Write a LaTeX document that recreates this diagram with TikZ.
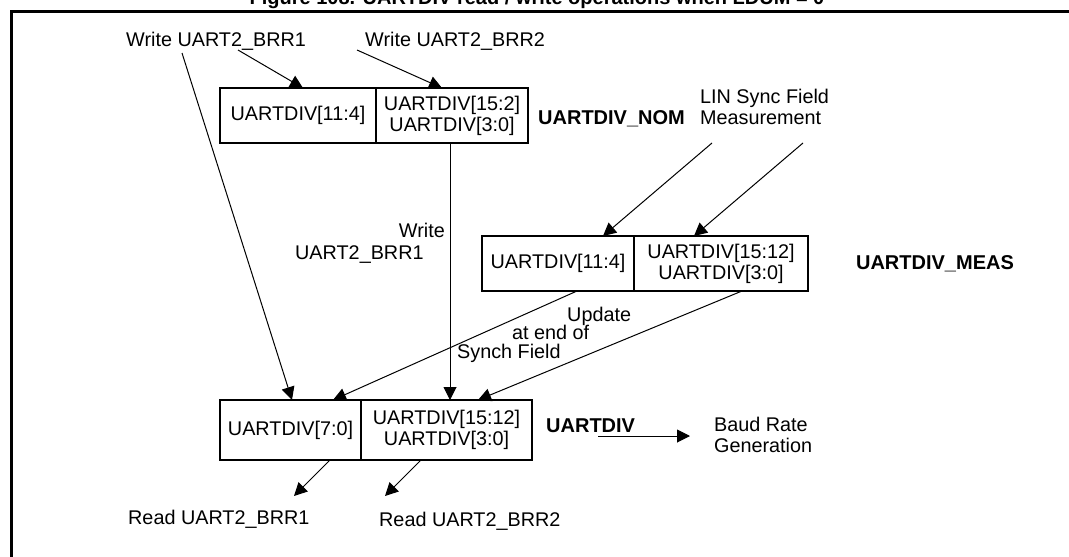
\documentclass[tikz,border=0pt]{standalone}
\usepackage{fontspec}
\setmainfont{Liberation Sans}
\usetikzlibrary{arrows.meta,calc}
\begin{document}
\begin{tikzpicture}[x=1pt,y=-1pt,
  txt/.style={font=\fontsize{19.8}{21}\selectfont, inner sep=0pt},
  bld/.style={font=\fontsize{20}{21}\selectfont\bfseries, inner sep=0pt},
  cell/.style={draw, line width=1.2pt, minimum height=55pt, inner sep=0pt, align=center,
               font=\fontsize{19.8}{21}\selectfont},
  arr/.style={-{Triangle[length=13pt,width=13pt]}, line width=1pt}]
\useasboundingbox (0,0) rectangle (1069,557);
\clip (0,0) rectangle (1069,557);
\fill[white] (0,0) rectangle (1069,557);
% title (clipped at the top edge, as in the reference) and frame
\node[bld, anchor=base] (title) at (537,4) {Figure 108. UARTDIV read / write operations when LDUM = 0};
\draw[line width=3pt] (11,11) rectangle (1090,580);

% top labels
\node[txt, anchor=base west] (w1) at (126,46) {Write UART2\_BRR1};
\node[txt, anchor=base west] (w2) at (365,46) {Write UART2\_BRR2};

% NOM register
\node[cell, minimum width=156pt] (nomL) at (298,115.5) {UARTDIV[11:4]};
\node[cell, minimum width=152pt] (nomR) at (452,115.5) {UARTDIV[15:2]\\UARTDIV[3:0]};
\node[bld, anchor=base west] (nomlab) at (538,124) {UARTDIV\_NOM};

% LIN sync
\node[txt, anchor=base west, align=left] (lin) at (700,124) {LIN Sync Field\\Measurement};

% MEAS register
\node[cell, minimum width=152pt] (measL) at (558,263.5) {UARTDIV[11:4]};
\node[cell, minimum width=174pt] (measR) at (721,263.5) {UARTDIV[15:12]\\UARTDIV[3:0]};
\node[bld, anchor=base] (measlab) at (935,269) {UARTDIV\_MEAS};

% labels in the middle
\node[txt, anchor=base east] (wl1) at (445,237) {Write};
\node[txt, anchor=base west] (wl2) at (295,259) {UART2\_BRR1};
\node[txt, anchor=base west] (up1) at (567,321) {Update};
\node[txt, anchor=base west] (up2) at (512,339) {at end of};
\node[txt, anchor=base west] (up3) at (457,358) {Synch Field};

% UARTDIV register
\node[cell, minimum width=141pt, minimum height=60pt] (botL) at (290.5,430) {UARTDIV[7:0]};
\node[cell, minimum width=171pt, minimum height=60pt] (botR) at (446.5,430) {UARTDIV[15:12]\\UARTDIV[3:0]};
\node[bld, anchor=base west] (divlab) at (546,432) {UARTDIV};
\node[txt, anchor=base west, align=left] (baud) at (714,452) {Baud Rate\\Generation};

% read labels
\node[txt, anchor=base west] (r1) at (128,524) {Read UART2\_BRR1};
\node[txt, anchor=base west] (r2) at (379,526) {Read UART2\_BRR2};

% connector end points
\coordinate (w1a) at (238,50);
\coordinate (w1b) at (182,53);
\coordinate (w2a) at (357,50);
\coordinate (nomLin) at (303,88);
\coordinate (nomRin) at (442,88);
\coordinate (lina) at (712,143);
\coordinate (linb) at (803,143);
\coordinate (measLin) at (603,236);
\coordinate (measRin) at (694,236);
\coordinate (nomRout) at (450,143);
\coordinate (mlo) at (577,291);
\coordinate (mro) at (742,291);
\coordinate (botin1) at (292,400);
\coordinate (botin2) at (333,400);
\coordinate (botin3) at (450,400);
\coordinate (botin4) at (478,400);
\coordinate (bl1) at (330,460);
\coordinate (br1) at (421,460);
\coordinate (rd1) at (294,496);
\coordinate (rd2) at (385,496);
\coordinate (bdst) at (598,436);
\coordinate (bdend) at (690,436);

% connectors
\draw[arr] (w1a) -- (nomLin);
\draw[arr] (w2a) -- (nomRin);
\draw[arr] (lina) -- (measLin);
\draw[arr] (linb) -- (measRin);
\draw[arr] (w1b) -- (botin1);
\draw[arr] (nomRout) -- (botin3);
\draw[arr] (mlo) -- (botin2);
\draw[arr] (mro) -- (botin4);
\draw[arr] (bl1) -- (rd1);
\draw[arr] (br1) -- (rd2);
\draw[arr] (bdst) -- (bdend);
\end{tikzpicture}
\end{document}
